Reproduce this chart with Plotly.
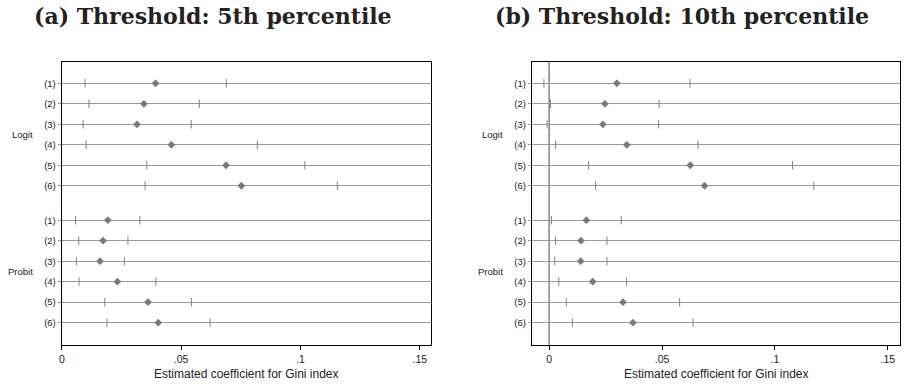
import plotly.graph_objects as go

W, H = 906, 384

models = ["(1)", "(2)", "(3)", "(4)", "(5)", "(6)"]
groups = ["Logit", "Probit"]
xtick_vals = [0, 0.05, 0.1, 0.15]
xtick_text = ["0", ".05", ".1", ".15"]
titles = ["(a) Threshold: 5th percentile", "(b) Threshold: 10th percentile"]
axis_title = "Estimated coefficient for Gini index"

# Panel (a): 5th percentile
logit5_coef = [0.0393, 0.0344, 0.0315, 0.0459, 0.0688, 0.0752]
logit5_lo = [0.0097, 0.0114, 0.0089, 0.0102, 0.0356, 0.0349]
logit5_hi = [0.0689, 0.0576, 0.0542, 0.0819, 0.1018, 0.1154]
probit5_coef = [0.0193, 0.0173, 0.0160, 0.0233, 0.0361, 0.0404]
probit5_lo = [0.0058, 0.0071, 0.0061, 0.0072, 0.0180, 0.0189]
probit5_hi = [0.0327, 0.0277, 0.0262, 0.0394, 0.0543, 0.0621]

# Panel (b): 10th percentile
logit10_coef = [0.0300, 0.0247, 0.0238, 0.0344, 0.0625, 0.0688]
logit10_lo = [-0.0023, 0.0006, -0.0009, 0.0029, 0.0175, 0.0206]
logit10_hi = [0.0624, 0.0487, 0.0485, 0.0659, 0.1078, 0.1172]
probit10_coef = [0.0165, 0.0141, 0.0140, 0.0193, 0.0327, 0.0371]
probit10_lo = [0.0010, 0.0028, 0.0025, 0.0043, 0.0076, 0.0103]
probit10_hi = [0.0319, 0.0256, 0.0256, 0.0343, 0.0578, 0.0637]

panels = [
    [(logit5_coef, logit5_lo, logit5_hi), (probit5_coef, probit5_lo, probit5_hi)],
    [(logit10_coef, logit10_lo, logit10_hi), (probit10_coef, probit10_lo, probit10_hi)],
]

# layout positions (rows on a numeric y axis)
GAP = 0.68
row_pos = [[i + 1 for i in range(6)], [i + 1 + 6 + GAP for i in range(6)]]
all_rows = row_pos[0] + row_pos[1]
all_text = models + models

def px(x):
    return x / W

def py(y):
    return 1 - y / H

x_domains = [[px(59), px(429.3)], [px(530.7), px(900.3)]]
y_domain = [py(345), py(61.7)]
x_ranges = [[0, 0.1546], [-0.0076, 0.1555]]
y_range = [13.77, -0.054]

MARK = "#7a7a7a"
CI = "#808080"
GRID = "#9a9a9a"

fig = go.Figure()

for p, panel in enumerate(panels):
    xa = "x" if p == 0 else "x2"
    ya = "y" if p == 0 else "y2"
    for g, (coef, lo, hi) in enumerate(panel):
        ys = row_pos[g]
        fig.add_trace(go.Scatter(
            x=lo + hi, y=ys + ys, mode="markers", xaxis=xa, yaxis=ya,
            marker=dict(symbol="line-ns", size=6, line=dict(width=1, color=CI), color=CI),
            showlegend=False, hoverinfo="skip"))
        fig.add_trace(go.Scatter(
            x=coef, y=ys, mode="markers", xaxis=xa, yaxis=ya,
            marker=dict(symbol="diamond", size=6, color=MARK, line=dict(width=0)),
            showlegend=False))

common_x = dict(
    tickmode="array", tickvals=xtick_vals, ticktext=xtick_text,
    ticks="outside", ticklen=4, tickwidth=1, tickcolor="black",
    showline=True, linecolor="black", linewidth=1.3, mirror=True,
    showgrid=False, zeroline=False,
    tickfont=dict(family="Liberation Sans, Arial", size=10.5, color="#222"),
)
common_y = dict(
    tickmode="array", tickvals=all_rows, ticktext=all_text,
    ticks="outside", ticklen=3, tickwidth=1, tickcolor=GRID,
    showline=True, linecolor="black", linewidth=1.3, mirror=True,
    showgrid=True, gridcolor=GRID, gridwidth=1, zeroline=False,
    range=y_range, domain=y_domain,
    tickfont=dict(family="Liberation Sans, Arial", size=9.5, color="#222"),
)

fig.update_layout(
    width=W, height=H, margin=dict(l=0, r=0, t=0, b=0),
    paper_bgcolor="white", plot_bgcolor="white",
    xaxis=dict(common_x, domain=x_domains[0], range=x_ranges[0], anchor="y"),
    yaxis=dict(common_y, anchor="x"),
    xaxis2=dict(common_x, domain=x_domains[1], range=x_ranges[1], anchor="y2"),
    yaxis2=dict(common_y, anchor="x2"),
)

# vertical reference line at zero in panel (b)
fig.add_shape(type="line", xref="x2", yref="y2 domain", x0=0, x1=0, y0=0, y1=1,
              line=dict(color="#6e6e6e", width=1.3), layer="below")

annots = []
title_centers = [211, 681]
for p in range(2):
    annots.append(dict(
        text="<b>%s</b>" % titles[p], x=px(title_centers[p]), y=py(16), xref="paper", yref="paper",
        xanchor="center", yanchor="middle", showarrow=False,
        font=dict(family="DejaVu Serif", size=22, color="#222")))
    annots.append(dict(
        text=axis_title, x=sum(x_domains[p]) / 2, y=py(373.5), xref="paper", yref="paper",
        xanchor="center", yanchor="middle", showarrow=False,
        font=dict(family="Liberation Sans, Arial", size=12, color="#222")))
    group_right = [32.5, 504][p]
    for g in range(2):
        annots.append(dict(
            text=groups[g], x=px(group_right), y=sum(row_pos[g]) / 6,
            xref="paper", yref="y" if p == 0 else "y2",
            xanchor="right", yanchor="middle", showarrow=False,
            font=dict(family="Liberation Sans, Arial", size=9.5, color="#222")))
fig.update_layout(annotations=annots)

fig.write_html("out.html", config={"displayModeBar": False},
               post_script="document.body.style.margin='0px';document.body.style.overflow='hidden';")
